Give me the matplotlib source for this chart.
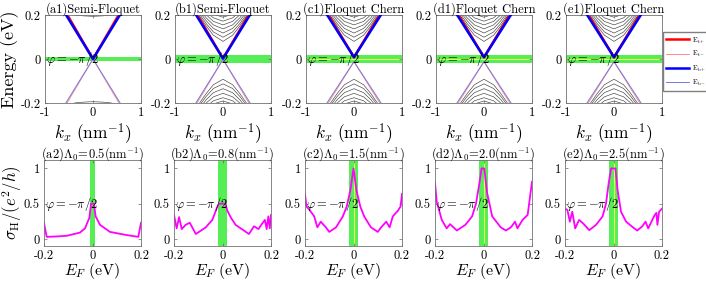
import matplotlib
matplotlib.use("Agg")
import matplotlib.pyplot as plt

plt.rcParams['font.family'] = 'cmr10'
plt.rcParams['mathtext.fontset'] = 'cm'
plt.rcParams['axes.formatter.use_mathtext'] = True

# ---- top row: band structure ----
top_titles = ['(a1)Semi-Floquet', '(b1)Semi-Floquet', '(c1)Floquet Chern',
              '(d1)Floquet Chern', '(e1)Floquet Chern']
cone_k = [-0.6, 0.0, 0.6]
tip_up = [0.0, 0.002, 0.008, 0.008, 0.008]
tip_dn = [0.0, -0.002, -0.012, -0.012, -0.012]
band_half_top = [0.009, 0.017, 0.018, 0.018, 0.02]
yellow_line = [False, False, True, True, True]

# subbands: energies at |k| = 0, 0.2, 0.35, 0.5 (mirrored to negative k)
sub_k = [0.0, 0.2, 0.35, 0.5]
sub_a_up = [[0.194, 0.196, 0.199, 0.205]]
sub_a_dn = [[-0.194, -0.196, -0.199, -0.205]]
sub_up = [
    [0.190, 0.2035, 0.230, 0.270],
    [0.172, 0.187, 0.214, 0.250],
    [0.155, 0.171, 0.201, 0.239],
    [0.137, 0.155, 0.187, 0.228],
    [0.118, 0.139, 0.174, 0.217],
    [0.099, 0.123, 0.161, 0.207],
    [0.080, 0.108, 0.150, 0.199],
]
sub_dn = [
    [-0.092, -0.117, -0.157, -0.204],
    [-0.113, -0.134, -0.170, -0.214],
    [-0.135, -0.153, -0.185, -0.227],
    [-0.156, -0.172, -0.200, -0.240],
    [-0.176, -0.190, -0.216, -0.253],
    [-0.191, -0.204, -0.228, -0.262],
]

# ---- bottom row: Hall conductance ----
bot_titles = [r'(a2)$\mathit{\Lambda}_0\!=\!0.5$(nm$^{-1}$)',
              r'(b2)$\mathit{\Lambda}_0\!=\!0.8$(nm$^{-1}$)',
              r'(c2)$\mathit{\Lambda}_0\!=\!1.5$(nm$^{-1}$)',
              r'(d2)$\mathit{\Lambda}_0\!=\!2.0$(nm$^{-1}$)',
              r'(e2)$\mathit{\Lambda}_0\!=\!2.5$(nm$^{-1}$)']
band_half_bot = [0.0095, 0.018, 0.019, 0.019, 0.019]

ef_a = [-0.2, -0.189, -0.15, -0.106, -0.052, -0.031, -0.013, -0.006, 0.006, 0.013,
        0.031, 0.072, 0.141, 0.189, 0.2]
sig_a = [0.23, 0.03, 0.035, 0.045, 0.09, 0.15, 0.30, 0.5, 0.5, 0.32,
         0.2, 0.1, 0.055, 0.03, 0.23]
ef_b = [-0.2, -0.189, -0.179, -0.168, -0.152, -0.135, -0.11, -0.069, -0.042, -0.021,
        -0.014, 0.012, 0.02, 0.035, 0.054, 0.109, 0.13, 0.148, 0.164, 0.175,
        0.182, 0.189, 0.195, 0.2]
sig_b = [0.34, 0.15, 0.31, 0.14, 0.2, 0.23, 0.07, 0.165, 0.27, 0.46,
         0.5, 0.5, 0.4, 0.3, 0.2, 0.07, 0.18, 0.14, 0.22, 0.27,
         0.14, 0.32, 0.15, 0.34]
ef_c = [-0.2, -0.194, -0.183, -0.162, -0.149, -0.135, -0.114, -0.1, -0.072, -0.044,
        -0.028, -0.013, 0.0, 0.012, 0.028, 0.044, 0.072, 0.1, 0.114, 0.135,
        0.149, 0.162, 0.183, 0.194, 0.2]
sig_c = [0.64, 0.46, 0.42, 0.32, 0.165, 0.245, 0.165, 0.1, 0.165, 0.32,
         0.46, 0.69, 1.0, 0.69, 0.46, 0.32, 0.165, 0.1, 0.165, 0.245,
         0.165, 0.32, 0.40, 0.46, 0.64]
ef_d = [-0.2, -0.193, -0.172, -0.152, -0.138, -0.11, -0.075, -0.047, -0.031, -0.017,
        -0.008, 0.003, 0.015, 0.036, 0.071, 0.092, 0.113, 0.13, 0.14, 0.161,
        0.182, 0.2]
sig_d = [0.8, 0.53, 0.27, 0.15, 0.21, 0.12, 0.2, 0.32, 0.5, 0.79,
         1.0, 1.0, 0.65, 0.32, 0.165, 0.12, 0.165, 0.245, 0.15, 0.27,
         0.34, 0.81]
ef_e = [-0.2, -0.19, -0.18, -0.17, -0.158, -0.142, -0.125, -0.1, -0.072, -0.045,
        -0.031, -0.02, -0.01, 0.008, 0.017, 0.031, 0.052, 0.08, 0.098, 0.119,
        0.132, 0.143, 0.16, 0.17, 0.177, 0.181, 0.188, 0.2]
sig_e = [0.43, 0.41, 0.245, 0.386, 0.15, 0.27, 0.22, 0.125, 0.2, 0.32,
         0.5, 0.79, 1.0, 1.0, 0.69, 0.386, 0.245, 0.165, 0.12, 0.18,
         0.245, 0.15, 0.27, 0.34, 0.37, 0.2, 0.386, 0.43]
ef_all = [ef_a, ef_b, ef_c, ef_d, ef_e]
sig_all = [sig_a, sig_b, sig_c, sig_d, sig_e]

GREEN = '#55ee55'
YELLOW = '#e8ff50'
W, H = 706, 284
lefts = [45, 175, 306, 436, 566]

fig = plt.figure(figsize=(W / 100, H / 100), dpi=100)


def style(ax):
    for s in ax.spines.values():
        s.set_color('0.45')
        s.set_linewidth(0.6)
    ax.tick_params(direction='in', length=2, width=0.5, color='0.4',
                   labelsize=9, top=True, right=True, pad=3)


def mirror(vals):
    return vals[:0:-1] + vals


sub_kk = [-k for k in sub_k[:0:-1]] + sub_k

for i in range(5):
    ax = fig.add_axes([lefts[i] / W, 1 - 103 / H, 96 / W, 88 / H])
    style(ax)
    h = band_half_top[i]
    ax.axhspan(-h, h, color=GREEN, lw=0, zorder=0)
    if yellow_line[i]:
        ax.axhline(0, color=YELLOW, lw=0.8, zorder=0.5)
    ups = sub_a_up if i == 0 else sub_up
    dns = sub_a_dn if i == 0 else sub_dn
    for row in ups + dns:
        ax.plot(sub_kk, mirror(row), color='0.25', lw=0.45, zorder=1)
    tu, td = tip_up[i], tip_dn[i]
    l1, = ax.plot(cone_k, [0.225, tu, 0.225], color='#ff0000', lw=1.8, zorder=2)
    l3, = ax.plot(cone_k, [0.214, tu, 0.214], color='#0000ff', lw=1.8, zorder=3)
    l2, = ax.plot(cone_k, [-0.222, td, -0.222], color='#ff8c8c', lw=0.7, zorder=2)
    l4, = ax.plot(cone_k, [-0.212, td, -0.212], color='#7878e0', lw=0.7, zorder=2)
    ax.text(-0.98, 0.0, r'$\varphi=-\pi/2$', fontsize=9, va='center', ha='left', zorder=4)
    ax.set_xlim(-1, 1)
    ax.set_ylim(-0.2, 0.2)
    ax.set_xticks([-1, 0, 1])
    ax.set_xticklabels(['-1', '0', '1'])
    ax.set_yticks([-0.2, 0, 0.2])
    ax.set_yticklabels(['-0.2', '0', '0.2'])
    ax.set_title(top_titles[i], fontsize=9, pad=2)
    ax.set_xlabel(r'$k_x\ $(nm$^{-1}$)', fontsize=12.5)
    ax.xaxis.set_label_coords(0.5, -0.2)
    if i == 0:
        ax.set_ylabel('Energy (eV)', fontsize=13)
        ax.yaxis.set_label_coords(-0.27, 0.5)
    if i == 4:
        handles = [l1, l2, l3, l4]

fig.legend(handles, [r'E$_{\rm t+}$', r'E$_{\rm t-}$', r'E$_{\rm b+}$', r'E$_{\rm b-}$'],
           loc='upper left', bbox_to_anchor=(663 / W, 1 - 32 / H), fontsize=5,
           frameon=True, fancybox=False, edgecolor='0.5', framealpha=1,
           handlelength=3.2, handletextpad=0.5, labelspacing=0.6,
           borderaxespad=0, borderpad=0.5)

for i in range(5):
    ax = fig.add_axes([(lefts[i] - 1) / W, 1 - 246 / H, 97 / W, 86 / H])
    style(ax)
    h = band_half_bot[i]
    ax.axvspan(-h, h, color=GREEN, lw=0, zorder=0)
    if yellow_line[i]:
        ax.axvline(0, color=YELLOW, lw=0.8, zorder=0.5)
    ax.plot(ef_all[i], sig_all[i], color='#ff00ff', lw=1.3, zorder=2)
    ax.text(-0.197, 0.5, r'$\varphi=-\pi/2$', fontsize=9, va='center', ha='left', zorder=4)
    ax.set_xlim(-0.2, 0.2)
    ax.set_ylim(-0.1, 1.12)
    ax.set_xticks([-0.2, 0, 0.2])
    ax.set_xticklabels(['-0.2', '0', '0.2'])
    ax.set_yticks([0, 0.5, 1])
    ax.set_yticklabels(['0', '0.5', '1'])
    ax.set_title(bot_titles[i], fontsize=9, pad=2)
    ax.set_xlabel(r'$E_F\ $(eV)', fontsize=11.5)
    ax.xaxis.set_label_coords(0.5, -0.18)
    if i == 0:
        ax.set_ylabel(r'$\sigma_{\rm H}/(e^2/h)$', fontsize=12)
        ax.yaxis.set_label_coords(-0.21, 0.5)

fig.savefig('out.png', dpi=100)
